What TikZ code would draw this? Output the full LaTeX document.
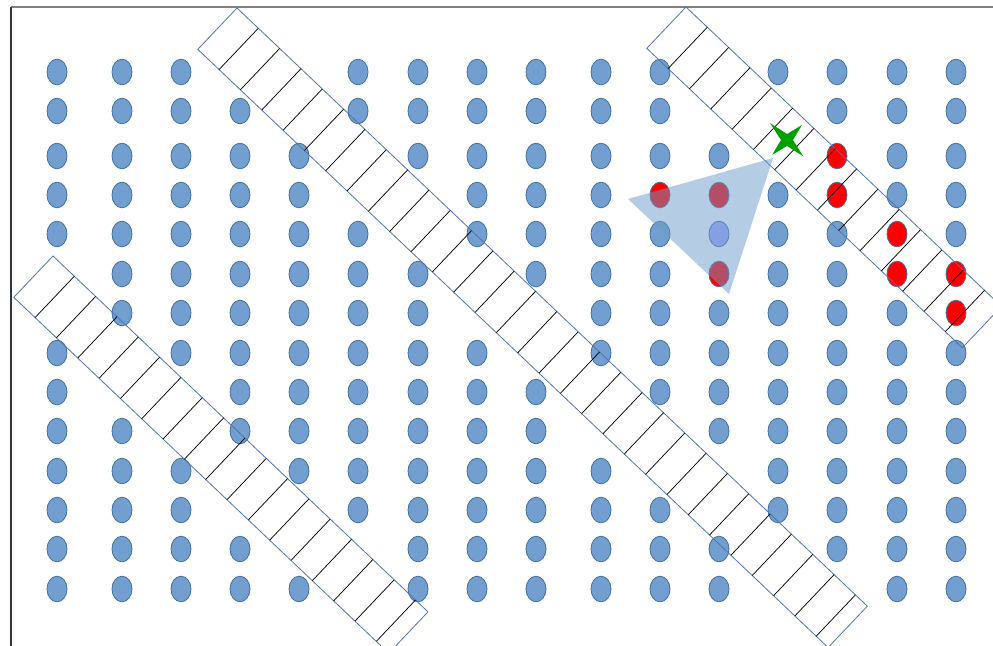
\documentclass[tikz,border=0pt]{standalone}
\usetikzlibrary{calc}
\definecolor{dotfill}{HTML}{729FCF}
\definecolor{dotedge}{HTML}{41719C}
\definecolor{stripedge}{HTML}{4F74AD}
\definecolor{hitred}{HTML}{FF0000}
\definecolor{conefill}{HTML}{6B9CCA}
\definecolor{lilac}{HTML}{A3A2FC}
\definecolor{stargreen}{HTML}{00A000}
\newcommand{\ladder}[3]{%
  \draw[strip] (#1) -- ++(43.5:#2) -- ++(133.5:57) -- ++(223.5:#2) -- cycle;
  \foreach \k [evaluate=\k as \d using \k*29.4] in {1,...,#3}
    \draw[rung] ($(#1)+(43.5:\d)$) -- ++(133.5:57);}

\begin{document}
\begin{tikzpicture}[x=0.75pt,y=-0.75pt,
  dot/.style={fill=dotfill,draw=dotedge,line width=0.6pt},
  hit/.style={dot,fill=hitred},
  strip/.style={draw=stripedge,line width=0.6pt},
  rung/.style={draw=black,line width=0.55pt},
  cone/.style={fill=conefill,fill opacity=0.5},
  burststyle/.style={fill=stargreen}]

\useasboundingbox (0,0) rectangle (993,646);
\clip (0,0) rectangle (993,646);
\fill[white] (0,0) rectangle (993,646);

\draw[gray,line width=1pt] (11,7) -- (993,7);
\draw[black!80,line width=0.8pt] (11,7) -- (11,646);

\foreach \y/\xs in {
  72/{57,122,181,358,418,477,536,601,660,778,837,897,956},
  111/{57,122,181,240,358,418,477,536,601,660,837,897,956},
  156/{57,122,181,240,299,418,477,536,601,660,719,897,956},
  195/{57,122,181,240,299,477,536,601,778,897,956},
  234/{57,122,181,240,299,358,477,536,601,660,778,837,956},
  274/{122,181,240,299,358,418,536,601,660,778,837},
  313/{122,181,240,299,358,418,601,660,719,778,837,897},
  353/{57,181,240,299,358,418,477,601,660,719,778,837,897,956},
  392/{57,240,299,358,418,477,536,660,719,778,837,897,956},
  431/{57,122,240,299,358,418,477,536,719,778,837,897,956},
  471/{57,122,181,299,358,418,477,536,601,778,837,897,956},
  510/{57,122,181,358,418,477,536,601,660,778,837,897,956},
  549/{57,122,181,240,418,477,536,601,660,719,837,897,956},
  589/{57,122,181,240,299,418,477,536,601,660,719,897,956}}
  \foreach \x in \xs
    \draw[dot] (\x,\y) ellipse [x radius=10,y radius=12.8];

\foreach \x/\y in {837/156,660/195,719/195,837/195,897/234,719/274,897/274,956/274,956/313}
  \draw[hit] (\x,\y) ellipse [x radius=10,y radius=12.8];
\draw[dot,fill=lilac] (719,234) ellipse [x radius=10,y radius=12.8];

\coordinate (stripA) at (237,8);
\coordinate (stripB) at (686,7);
\coordinate (stripC) at (53,256);
\ladder{stripA}{869}{29}
\ladder{stripB}{435}{14}
\ladder{stripC}{517}{17}

\coordinate (coneA) at (628,199);
\coordinate (coneB) at (773,158);
\coordinate (coneC) at (729,294);
\fill[cone] (coneA) -- (coneB) -- (coneC) -- cycle;

\coordinate (burst) at (787,140);
\fill[burststyle,shift={(burst)}] (45:23) -- (90:6) -- (135:21) -- (180:6)
  -- (225:24) -- (270:6) -- (315:21) -- (0:6) -- cycle;
\end{tikzpicture}
\end{document}
